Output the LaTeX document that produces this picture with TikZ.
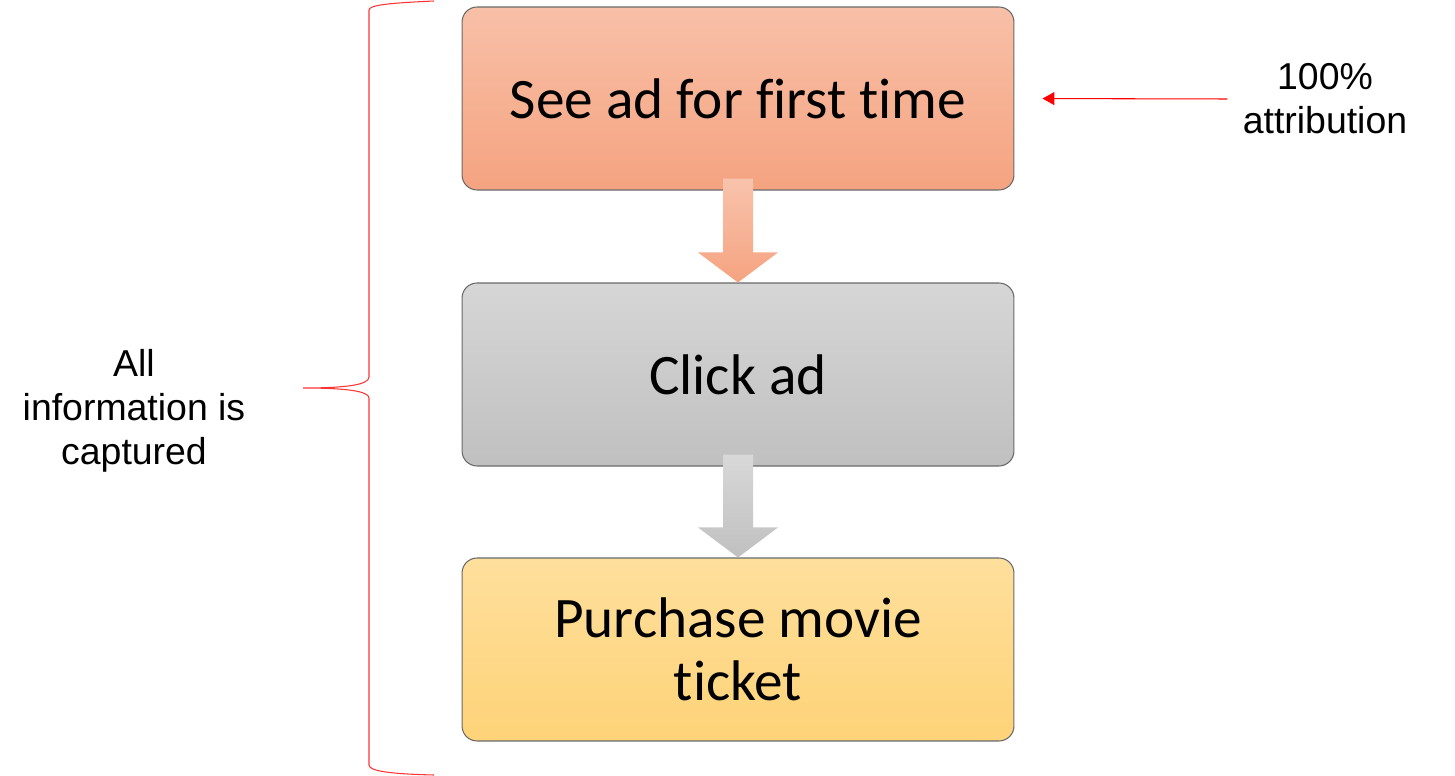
\documentclass[tikz,border=0pt]{standalone}
\usepackage{fontspec}
\setmainfont{Liberation Sans}
\newfontfamily\boxfont[Ligatures=NoCommon]{Carlito}
\usetikzlibrary{positioning,calc,arrows.meta}
\definecolor{seetop}{RGB}{248,192,168}
\definecolor{seebot}{RGB}{245,163,128}
\definecolor{clicktop}{RGB}{214,214,214}
\definecolor{clickbot}{RGB}{192,192,192}
\definecolor{buytop}{RGB}{254,223,156}
\definecolor{buybot}{RGB}{254,211,120}
\definecolor{boxline}{RGB}{105,105,105}
\begin{document}
\begin{tikzpicture}[x=0.02cm,y=-0.02cm]
\tikzstyle{etape}=[draw=boxline, line width=0.6pt, rounded corners=0.3cm, minimum width=11.04cm, minimum height=3.66cm, align=center, font=\boxfont\fontsize{32.6}{36}\selectfont]
\tikzstyle{legende}=[align=center, font=\fontsize{21.3}{25}\selectfont]
\tikzstyle{fleche}=[red, line width=0.6pt, -{Triangle[length=0.24cm,width=0.26cm]}]
\tikzstyle{accolade}=[red!80, line width=0.6pt]
\useasboundingbox (0,0) rectangle (1455,776);

%the steps
\node[etape, top color=seetop, bottom color=seebot] (see) at (738,98.5) {See ad for first time};
\node[etape, top color=clicktop, bottom color=clickbot, below=1.84cm of see] (click) {Click ad};
\node[etape, top color=buytop, bottom color=buybot, below=1.82cm of click] (buy) {Purchase movie\\ticket};

%block arrows
\foreach \a/\b/\c in {see/click/see, click/buy/click}
  \shade[top color=\c top!95!white, bottom color=\c bot]
    ($(\a.south)+(-15,-12)$) -- ($(\a.south)+(15,-12)$) -- ($(\b.north)+(15,-30)$)
    -- ($(\b.north)+(40,-30)$) -- (\b.north) -- ($(\b.north)+(-40,-30)$)
    -- ($(\b.north)+(-15,-30)$) -- cycle ;

%attribution
\node[legende, inner sep=0.3cm] (attr) at (1325,99) {100\%\\attribution};
\draw[fleche, shorten >=0.56cm] (attr.west) -- (see.east) ;

%brace
\node[legende] (tout) at (134,411) {All\\information is\\captured};
\draw[accolade] (434,1) .. controls (390,3) and (369,5) .. (369,10) -- (369,377)
  .. controls (369,385) and (345,388) .. (303,388) .. controls (345,388) and (369,391) .. (369,398)
  -- (369,765) .. controls (369,771) and (390,774) .. (434,775) ;

\end{tikzpicture}
\end{document}
